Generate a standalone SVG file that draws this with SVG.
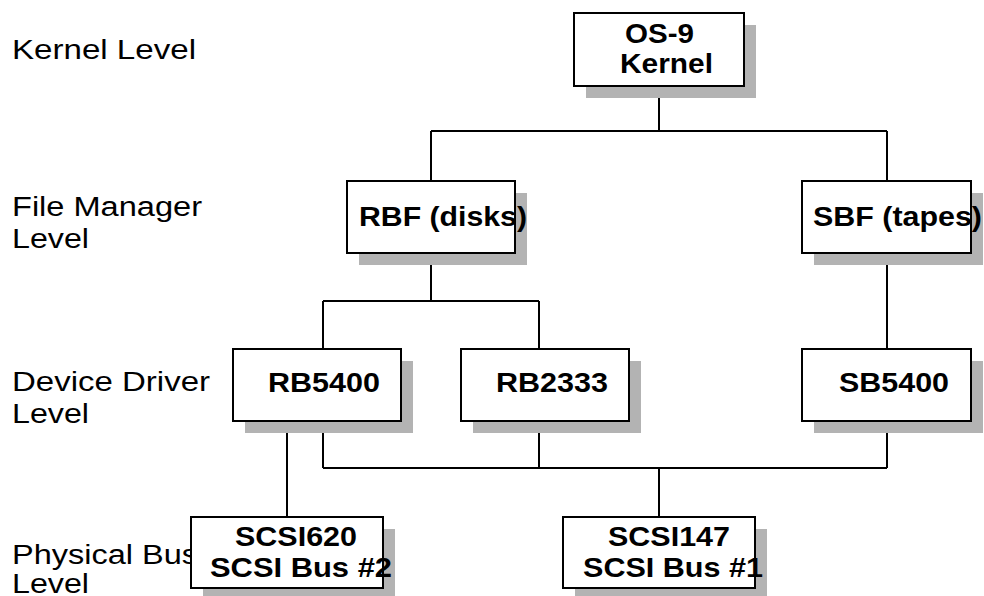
<svg xmlns="http://www.w3.org/2000/svg" width="984" height="596" viewBox="0 0 984 596">
<defs>
<style>
.bg{fill:#ffffff}
.lbl{font-family:"Liberation Sans",Arial,sans-serif;font-size:27px;fill:#000}
.nt{font-family:"Liberation Sans",Arial,sans-serif;font-size:27px;font-weight:bold;fill:#000}
.sh{fill:#b3b3b3}
.bx{fill:#ffffff;stroke:#000;stroke-width:2}
.ln{fill:none;stroke:#000;stroke-width:2}
</style>
</defs>
<rect class="bg" x="0" y="0" width="984" height="596"/>
<g id="level-labels">
<text class="lbl" x="12" y="59" textLength="184" lengthAdjust="spacingAndGlyphs">Kernel Level</text>
<text class="lbl" x="12" y="216" textLength="190" lengthAdjust="spacingAndGlyphs">File Manager</text>
<text class="lbl" x="12" y="248" textLength="77" lengthAdjust="spacingAndGlyphs">Level</text>
<text class="lbl" x="12" y="391" textLength="198" lengthAdjust="spacingAndGlyphs">Device Driver</text>
<text class="lbl" x="12" y="423" textLength="77" lengthAdjust="spacingAndGlyphs">Level</text>
<text class="lbl" x="12" y="564" textLength="186" lengthAdjust="spacingAndGlyphs">Physical Bus</text>
<text class="lbl" x="12" y="593" textLength="77" lengthAdjust="spacingAndGlyphs">Level</text>
</g>
<g id="connectors">
<path class="ln" d="M659 86V131M431 131H887M431 131V181M887 131V181"/>
<path class="ln" d="M431 253V301M323 301H539M323 301V349M539 301V349"/>
<path class="ln" d="M887 253V349"/>
<path class="ln" d="M287 421V517"/>
<path class="ln" d="M323 421V468M539 421V468M887 421V468M323 468H887M659 468V517"/>
</g>
<g id="os9-kernel">
<rect class="sh" x="586" y="25" width="170" height="73"/>
<rect class="bx" x="574" y="13" width="170" height="73"/>
<text class="nt" x="625" y="43" textLength="69" lengthAdjust="spacingAndGlyphs">OS-9</text>
<text class="nt" x="620" y="73" textLength="93" lengthAdjust="spacingAndGlyphs">Kernel</text>
</g>
<g id="rbf">
<rect class="sh" x="359" y="193" width="168" height="72"/>
<rect class="bx" x="347" y="181" width="168" height="72"/>
<text class="nt" x="359" y="226" textLength="168" lengthAdjust="spacingAndGlyphs">RBF (disks)</text>
</g>
<g id="sbf">
<rect class="sh" x="814" y="193" width="169" height="72"/>
<rect class="bx" x="802" y="181" width="169" height="72"/>
<text class="nt" x="813" y="226" textLength="169" lengthAdjust="spacingAndGlyphs">SBF (tapes)</text>
</g>
<g id="rb5400">
<rect class="sh" x="245" y="361" width="168" height="72"/>
<rect class="bx" x="233" y="349" width="168" height="72"/>
<text class="nt" x="268" y="392" textLength="112" lengthAdjust="spacingAndGlyphs">RB5400</text>
</g>
<g id="rb2333">
<rect class="sh" x="473" y="361" width="168" height="72"/>
<rect class="bx" x="461" y="349" width="168" height="72"/>
<text class="nt" x="496" y="392" textLength="112" lengthAdjust="spacingAndGlyphs">RB2333</text>
</g>
<g id="sb5400">
<rect class="sh" x="814" y="361" width="169" height="72"/>
<rect class="bx" x="802" y="349" width="169" height="72"/>
<text class="nt" x="839" y="392" textLength="110" lengthAdjust="spacingAndGlyphs">SB5400</text>
</g>
<g id="scsi620">
<rect class="sh" x="203" y="529" width="192" height="71"/>
<rect class="bx" x="191" y="517" width="192" height="71"/>
<text class="nt" x="235" y="546" textLength="122" lengthAdjust="spacingAndGlyphs">SCSI620</text>
<text class="nt" x="210" y="577" textLength="182" lengthAdjust="spacingAndGlyphs">SCSI Bus #2</text>
</g>
<g id="scsi147">
<rect class="sh" x="575" y="529" width="192" height="71"/>
<rect class="bx" x="563" y="517" width="192" height="71"/>
<text class="nt" x="608" y="546" textLength="122" lengthAdjust="spacingAndGlyphs">SCSI147</text>
<text class="nt" x="583" y="577" textLength="180" lengthAdjust="spacingAndGlyphs">SCSI Bus #1</text>
</g>
</svg>
